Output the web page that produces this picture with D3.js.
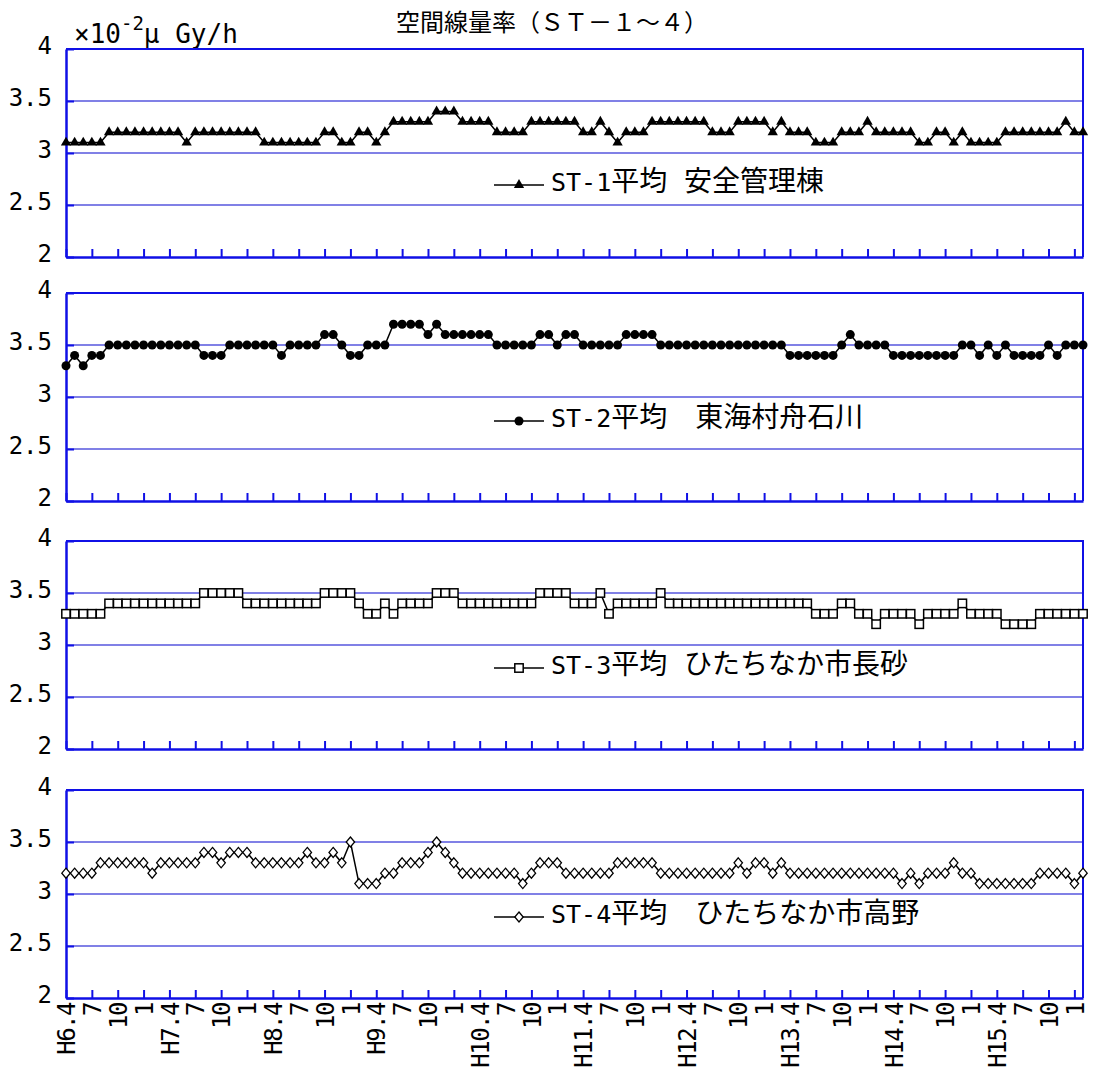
<!DOCTYPE html>
<html>
<head>
<meta charset="utf-8">
<script src="https://cdn.jsdelivr.net/npm/d3@7/dist/d3.min.js"></script>
<style>
  body { margin: 0; background: #fff; }
  svg { display: block; }
</style>
</head>
<body>
<svg id="chart" width="1095" height="1079"></svg>
<script>
// monthly categories, H6.4 .. H16.2
var months = [];
for (var fy = 6; fy <= 15; fy++) {
  [4, 5, 6, 7, 8, 9, 10, 11, 12, 1, 2, 3].forEach(function (m) {
    months.push("H" + fy + "." + m);
  });
}
months = months.slice(0, 119);

// quarterly labels on the bottom axis
var xTickLabels = [
  "H6.4", "7", "10", "1", "H7.4", "7", "10", "1", "H8.4", "7", "10", "1",
  "H9.4", "7", "10", "1", "H10.4", "7", "10", "1", "H11.4", "7", "10", "1",
  "H12.4", "7", "10", "1", "H13.4", "7", "10", "1", "H14.4", "7", "10", "1",
  "H15.4", "7", "10", "1"
];

var yTicks = [2, 2.5, 3, 3.5, 4];
var yTickLabels = ["2", "2.5", "3", "3.5", "4"];

// ST-1 平均 安全管理棟
var st1 = [
  3.1, 3.1, 3.1, 3.1, 3.1, 3.2, 3.2, 3.2, 3.2, 3.2, 3.2, 3.2,
  3.2, 3.2, 3.1, 3.2, 3.2, 3.2, 3.2, 3.2, 3.2, 3.2, 3.2, 3.1,
  3.1, 3.1, 3.1, 3.1, 3.1, 3.1, 3.2, 3.2, 3.1, 3.1, 3.2, 3.2,
  3.1, 3.2, 3.3, 3.3, 3.3, 3.3, 3.3, 3.4, 3.4, 3.4, 3.3, 3.3,
  3.3, 3.3, 3.2, 3.2, 3.2, 3.2, 3.3, 3.3, 3.3, 3.3, 3.3, 3.3,
  3.2, 3.2, 3.3, 3.2, 3.1, 3.2, 3.2, 3.2, 3.3, 3.3, 3.3, 3.3,
  3.3, 3.3, 3.3, 3.2, 3.2, 3.2, 3.3, 3.3, 3.3, 3.3, 3.2, 3.3,
  3.2, 3.2, 3.2, 3.1, 3.1, 3.1, 3.2, 3.2, 3.2, 3.3, 3.2, 3.2,
  3.2, 3.2, 3.2, 3.1, 3.1, 3.2, 3.2, 3.1, 3.2, 3.1, 3.1, 3.1,
  3.1, 3.2, 3.2, 3.2, 3.2, 3.2, 3.2, 3.2, 3.3, 3.2, 3.2
];

// ST-2 平均 東海村舟石川
var st2 = [
  3.3, 3.4, 3.3, 3.4, 3.4, 3.5, 3.5, 3.5, 3.5, 3.5, 3.5, 3.5,
  3.5, 3.5, 3.5, 3.5, 3.4, 3.4, 3.4, 3.5, 3.5, 3.5, 3.5, 3.5,
  3.5, 3.4, 3.5, 3.5, 3.5, 3.5, 3.6, 3.6, 3.5, 3.4, 3.4, 3.5,
  3.5, 3.5, 3.7, 3.7, 3.7, 3.7, 3.6, 3.7, 3.6, 3.6, 3.6, 3.6,
  3.6, 3.6, 3.5, 3.5, 3.5, 3.5, 3.5, 3.6, 3.6, 3.5, 3.6, 3.6,
  3.5, 3.5, 3.5, 3.5, 3.5, 3.6, 3.6, 3.6, 3.6, 3.5, 3.5, 3.5,
  3.5, 3.5, 3.5, 3.5, 3.5, 3.5, 3.5, 3.5, 3.5, 3.5, 3.5, 3.5,
  3.4, 3.4, 3.4, 3.4, 3.4, 3.4, 3.5, 3.6, 3.5, 3.5, 3.5, 3.5,
  3.4, 3.4, 3.4, 3.4, 3.4, 3.4, 3.4, 3.4, 3.5, 3.5, 3.4, 3.5,
  3.4, 3.5, 3.4, 3.4, 3.4, 3.4, 3.5, 3.4, 3.5, 3.5, 3.5
];

// ST-3 平均 ひたちなか市長砂
var st3 = [
  3.3, 3.3, 3.3, 3.3, 3.3, 3.4, 3.4, 3.4, 3.4, 3.4, 3.4, 3.4,
  3.4, 3.4, 3.4, 3.4, 3.5, 3.5, 3.5, 3.5, 3.5, 3.4, 3.4, 3.4,
  3.4, 3.4, 3.4, 3.4, 3.4, 3.4, 3.5, 3.5, 3.5, 3.5, 3.4, 3.3,
  3.3, 3.4, 3.3, 3.4, 3.4, 3.4, 3.4, 3.5, 3.5, 3.5, 3.4, 3.4,
  3.4, 3.4, 3.4, 3.4, 3.4, 3.4, 3.4, 3.5, 3.5, 3.5, 3.5, 3.4,
  3.4, 3.4, 3.5, 3.3, 3.4, 3.4, 3.4, 3.4, 3.4, 3.5, 3.4, 3.4,
  3.4, 3.4, 3.4, 3.4, 3.4, 3.4, 3.4, 3.4, 3.4, 3.4, 3.4, 3.4,
  3.4, 3.4, 3.4, 3.3, 3.3, 3.3, 3.4, 3.4, 3.3, 3.3, 3.2, 3.3,
  3.3, 3.3, 3.3, 3.2, 3.3, 3.3, 3.3, 3.3, 3.4, 3.3, 3.3, 3.3,
  3.3, 3.2, 3.2, 3.2, 3.2, 3.3, 3.3, 3.3, 3.3, 3.3, 3.3
];

// ST-4 平均 ひたちなか市高野
var st4 = [
  3.2, 3.2, 3.2, 3.2, 3.3, 3.3, 3.3, 3.3, 3.3, 3.3, 3.2, 3.3,
  3.3, 3.3, 3.3, 3.3, 3.4, 3.4, 3.3, 3.4, 3.4, 3.4, 3.3, 3.3,
  3.3, 3.3, 3.3, 3.3, 3.4, 3.3, 3.3, 3.4, 3.3, 3.5, 3.1, 3.1,
  3.1, 3.2, 3.2, 3.3, 3.3, 3.3, 3.4, 3.5, 3.4, 3.3, 3.2, 3.2,
  3.2, 3.2, 3.2, 3.2, 3.2, 3.1, 3.2, 3.3, 3.3, 3.3, 3.2, 3.2,
  3.2, 3.2, 3.2, 3.2, 3.3, 3.3, 3.3, 3.3, 3.3, 3.2, 3.2, 3.2,
  3.2, 3.2, 3.2, 3.2, 3.2, 3.2, 3.3, 3.2, 3.3, 3.3, 3.2, 3.3,
  3.2, 3.2, 3.2, 3.2, 3.2, 3.2, 3.2, 3.2, 3.2, 3.2, 3.2, 3.2,
  3.2, 3.1, 3.2, 3.1, 3.2, 3.2, 3.2, 3.3, 3.2, 3.2, 3.1, 3.1,
  3.1, 3.1, 3.1, 3.1, 3.1, 3.2, 3.2, 3.2, 3.2, 3.1, 3.2
];

var seriesCodes = ["ST-1", "ST-2", "ST-3", "ST-4"];
var seriesGaps = [" ", "　", " ", "　"];
var seriesPlaces = ["安全管理棟", "東海村舟石川", "ひたちなか市長砂", "ひたちなか市高野"];
var markerTypes = ["triangle", "circle", "square", "diamond"];
var allSeries = [st1, st2, st3, st4];

var svg = d3.select("#chart");
var axisBlue = "#1010e6";
var gridBlue = "#8080e6";
var monoFont = "'DejaVu Sans Mono', 'Noto Sans CJK JP', monospace";
var cjkFont = "'Noto Sans CJK JP', sans-serif";

// title and unit
svg.append("text")
  .attr("x", 552).attr("y", 31)
  .attr("text-anchor", "middle")
  .style("font-family", cjkFont)
  .style("font-size", "24px")
  .text("空間線量率（ＳＴ－１～４）");

var unit = svg.append("text")
  .attr("x", 74).attr("y", 43)
  .style("font-family", monoFont)
  .style("font-size", "26px");
unit.append("tspan").text("×10");
unit.append("tspan").attr("dy", -13).style("font-size", "19px").text("-2");
unit.append("tspan").attr("dy", 13).text("μ Gy/h");

var panelTops = [49, 293, 541, 790];
var panelH = 208;
var legendDy = [136, 128, 127, 127];
var x0 = 66, x1 = 1083;

var x = d3.scalePoint().domain(months).range([x0, x1]);
var quarterTicks = months.filter(function (d, i) { return i % 3 === 0; });

function drawMarker(g, type, cx, cy) {
  if (type === "triangle") {
    g.append("path")
      .attr("d", d3.symbol(d3.symbolTriangle, 46)())
      .attr("transform", "translate(" + cx + "," + cy + ")")
      .attr("fill", "#000");
  } else if (type === "circle") {
    g.append("circle").attr("cx", cx).attr("cy", cy).attr("r", 4.5).attr("fill", "#000");
  } else if (type === "square") {
    g.append("rect").attr("x", cx - 4.2).attr("y", cy - 4.2).attr("width", 8.4).attr("height", 8.4)
      .attr("fill", "#fff").attr("stroke", "#000").attr("stroke-width", 1.5);
  } else {
    g.append("path")
      .attr("d", "M0,-5L4.2,0L0,5L-4.2,0Z")
      .attr("transform", "translate(" + cx + "," + cy + ")")
      .attr("fill", "#fff").attr("stroke", "#000").attr("stroke-width", 1.3);
  }
}

allSeries.forEach(function (values, p) {
  var top = panelTops[p];
  var y = d3.scaleLinear().domain([2, 4]).range([top + panelH, top]);
  var g = svg.append("g");

  // grid lines
  g.selectAll(".grid").data([2.5, 3, 3.5]).enter().append("line")
    .attr("x1", x0).attr("x2", x1)
    .attr("y1", function (d) { return y(d); }).attr("y2", function (d) { return y(d); })
    .attr("stroke", gridBlue).attr("stroke-width", 2);

  // top and right border
  g.append("path")
    .attr("d", "M" + x0 + "," + y(4) + "H" + x1 + "V" + y(2))
    .attr("fill", "none").attr("stroke", axisBlue).attr("stroke-width", 2);

  // left axis
  var yAxis = g.append("g")
    .attr("transform", "translate(" + x0 + ",0)")
    .call(d3.axisLeft(y).tickValues(yTicks).tickSizeInner(-8).tickSizeOuter(0).tickPadding(14)
      .tickFormat(function (d) { return yTickLabels[yTicks.indexOf(d)]; }));
  yAxis.select(".domain").attr("stroke", axisBlue).attr("stroke-width", 2.5);
  yAxis.selectAll(".tick line").attr("stroke", axisBlue).attr("stroke-width", 2);
  yAxis.selectAll(".tick text")
    .attr("dy", "0.2em")
    .style("font-family", monoFont).style("font-size", "24px").attr("fill", "#000");

  // bottom axis
  var xAxis = g.append("g")
    .attr("transform", "translate(0," + y(2) + ")")
    .call(d3.axisBottom(x).tickValues(quarterTicks).tickSizeInner(-8).tickSizeOuter(0)
      .tickFormat(function (d, i) { return p === 3 ? xTickLabels[i] : ""; }));
  xAxis.select(".domain").attr("stroke", axisBlue).attr("stroke-width", 2.5);
  xAxis.selectAll(".tick line").attr("stroke", axisBlue).attr("stroke-width", 2);
  xAxis.selectAll(".tick text")
    .attr("transform", "rotate(-90)")
    .attr("x", -5).attr("y", 0).attr("dy", "0.36em")
    .style("text-anchor", "end")
    .style("font-family", monoFont).style("font-size", "24px")
    .style("letter-spacing", "-1.5px")
    .attr("fill", "#000");

  // series line
  var line = d3.line()
    .x(function (d, i) { return x(months[i]); })
    .y(function (d) { return y(d); });
  g.append("path")
    .datum(values)
    .attr("d", line)
    .attr("fill", "none").attr("stroke", "#000").attr("stroke-width", 1.5);

  var mg = g.append("g");
  values.forEach(function (v, i) {
    drawMarker(mg, markerTypes[p], x(months[i]), y(v));
  });

  // legend
  var ly = top + legendDy[p];
  var lg = svg.append("g");
  lg.append("line").attr("x1", 494).attr("x2", 544).attr("y1", ly).attr("y2", ly)
    .attr("stroke", "#000").attr("stroke-width", 1.5);
  drawMarker(lg, markerTypes[p], 519, ly);
  var lt = lg.append("text")
    .attr("x", 551).attr("y", ly).attr("dy", "0.36em")
    .attr("xml:space", "preserve")
    .style("white-space", "pre");
  lt.append("tspan").style("font-family", monoFont).style("font-size", "25px").text(seriesCodes[p]);
  lt.append("tspan").style("font-family", cjkFont).style("font-size", "28px").text("平均");
  lt.append("tspan").style("font-family", p % 2 === 0 ? monoFont : cjkFont).style("font-size", "28px").text(seriesGaps[p]);
  lt.append("tspan").style("font-family", cjkFont).style("font-size", "28px").text(seriesPlaces[p]);
});
</script>
</body>
</html>
